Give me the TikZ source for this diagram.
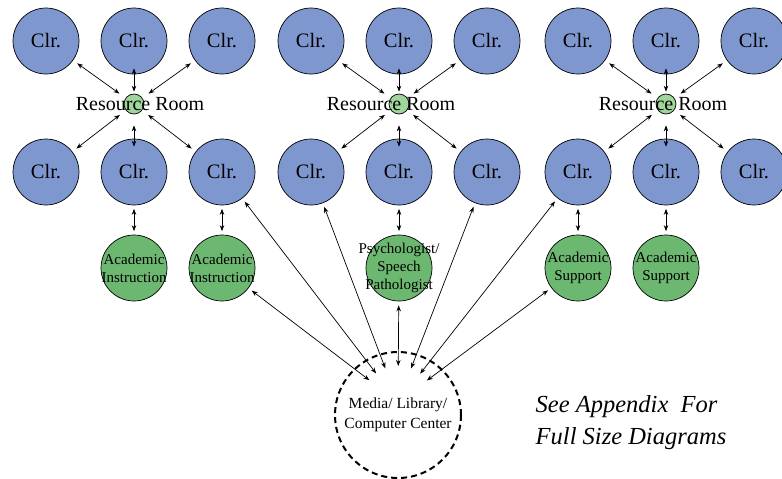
\documentclass[tikz,border=0pt]{standalone}
\usepackage{fontspec}
\setmainfont{Liberation Serif}
\usepackage{tikz}
\usetikzlibrary{positioning,shapes,arrows.meta}

\definecolor{clrblue}{RGB}{127,151,207}
\definecolor{acgreen}{RGB}{108,184,112}
\definecolor{rmgreen}{RGB}{160,214,156}

\begin{document}
\begin{tikzpicture}[%
        x=1pt,y=-1pt,
        <->,
        >={Stealth[length=6pt,width=4.5pt]},
        line width=0.7pt,
        node distance=88pt,
        on grid,
        clr/.style={%
          circle,
          minimum size=66pt,
          inner sep=0pt,
          draw,
          fill=clrblue,
          font=\fontsize{20.5}{22}\selectfont
        },
        room/.style={circle,draw,fill=rmgreen,minimum size=20pt,inner sep=0pt},
        roomlabel/.style={font=\fontsize{20}{22}\selectfont},
        service/.style={%
          circle,
          minimum size=66pt,
          inner sep=0pt,
          draw,
          fill=acgreen,
          label={[align=center,font=\fontsize{15}{18}\selectfont]center:#1}
        },
        media/.style={%
          circle,
          draw,
          line width=2pt,
          dash pattern=on 6pt off 4pt,
          minimum size=126pt,
          align=center,
          font=\fontsize{15.5}{19.5}\selectfont
        },
        note/.style={align=left,font=\itshape\fontsize{24.5}{32}\selectfont},
        diag/.style={shorten <=7.5pt,shorten >=5pt},
        vert/.style={shorten <=3.5pt,shorten >=3.5pt},
        tomedia/.style={shorten <=4pt,shorten >=36pt}
      ]
      \useasboundingbox (0,0) rectangle (782,479);
      % first cluster
      \node[clr] (a2) at (134,41) {Clr.};
      \node[clr] (a1) [left=of a2] {Clr.};
      \node[clr] (a3) [right=of a2] {Clr.};
      \node[room] (ra) [below=63pt of a2] {};
      \node[clr] (a5) [below=68pt of ra] {Clr.};
      \node[clr] (a4) [left=of a5] {Clr.};
      \node[clr] (a6) [right=of a5] {Clr.};
      \node[service={Academic\\Instruction}] (ga) [below=96pt of a5] {};
      \node[service={Academic\\Instruction}] (gb) [below=96pt of a6] {};
      % second cluster
      \node[clr] (b2) at (399,41) {Clr.};
      \node[clr] (b1) [left=of b2] {Clr.};
      \node[clr] (b3) [right=of b2] {Clr.};
      \node[room] (rb) [below=63pt of b2] {};
      \node[clr] (b5) [below=68pt of rb] {Clr.};
      \node[clr] (b4) [left=of b5] {Clr.};
      \node[clr] (b6) [right=of b5] {Clr.};
      \node[service={Psychologist/\\Speech\\Pathologist}] (gp) [below=96pt of b5] {};
      % third cluster
      \node[clr] (c2) at (666,41) {Clr.};
      \node[clr] (c1) [left=of c2] {Clr.};
      \node[clr] (c3) [right=of c2] {Clr.};
      \node[room] (rc) [below=63pt of c2] {};
      \node[clr] (c5) [below=68pt of rc] {Clr.};
      \node[clr] (c4) [left=of c5] {Clr.};
      \node[clr] (c6) [right=of c5] {Clr.};
      \node[service={Academic\\Support}] (gc) [below=96pt of c4] {};
      \node[service={Academic\\Support}] (gd) [below=96pt of c5] {};
      % media center
      \node[media] (media) at (398,415) {Media/ Library/\\Computer Center};
      \coordinate (hub) at ([yshift=13pt]media.center);

      \path (ra) edge [diag] (a1)
      (ra) edge [diag] (a3)
      (ra) edge [diag] (a4)
      (ra) edge [diag] (a6)
      (a2) edge [shorten <=-6pt,shorten >=2pt] (ra)
      (ra) edge [shorten <=11pt,shorten >=-8pt] (a5)
      (a5) edge [vert] (ga)
      (a6) edge [vert] (gb);
      \path (rb) edge [diag] (b1)
      (rb) edge [diag] (b3)
      (rb) edge [diag] (b4)
      (rb) edge [diag] (b6)
      (b2) edge [shorten <=-6pt,shorten >=2pt] (rb)
      (rb) edge [shorten <=11pt,shorten >=-8pt] (b5)
      (b5) edge [vert] (gp);
      \path (rc) edge [diag] (c1)
      (rc) edge [diag] (c3)
      (rc) edge [diag] (c4)
      (rc) edge [diag] (c6)
      (c2) edge [shorten <=-6pt,shorten >=2pt] (rc)
      (rc) edge [shorten <=11pt,shorten >=-8pt] (c5)
      (c4) edge [vert] (gc)
      (c5) edge [vert] (gd);
      \path (gb) edge [tomedia] (hub)
      (a6) edge [tomedia] (hub)
      (b4) edge [tomedia] (hub)
      (gp) edge [tomedia] (hub)
      (b6) edge [tomedia] (hub)
      (c4) edge [tomedia] (hub)
      (gc) edge [tomedia] (hub);

      \node[roomlabel] (la) at ([xshift=6pt]ra) {Resource Room};
      \node[roomlabel] (lb) at ([xshift=-8pt]rb) {Resource Room};
      \node[roomlabel] (lc) at ([xshift=-3pt]rc) {Resource Room};
      \node[note] (note) at (631,423) {See Appendix~~For\\Full Size Diagrams};
  \end{tikzpicture}
\end{document}
